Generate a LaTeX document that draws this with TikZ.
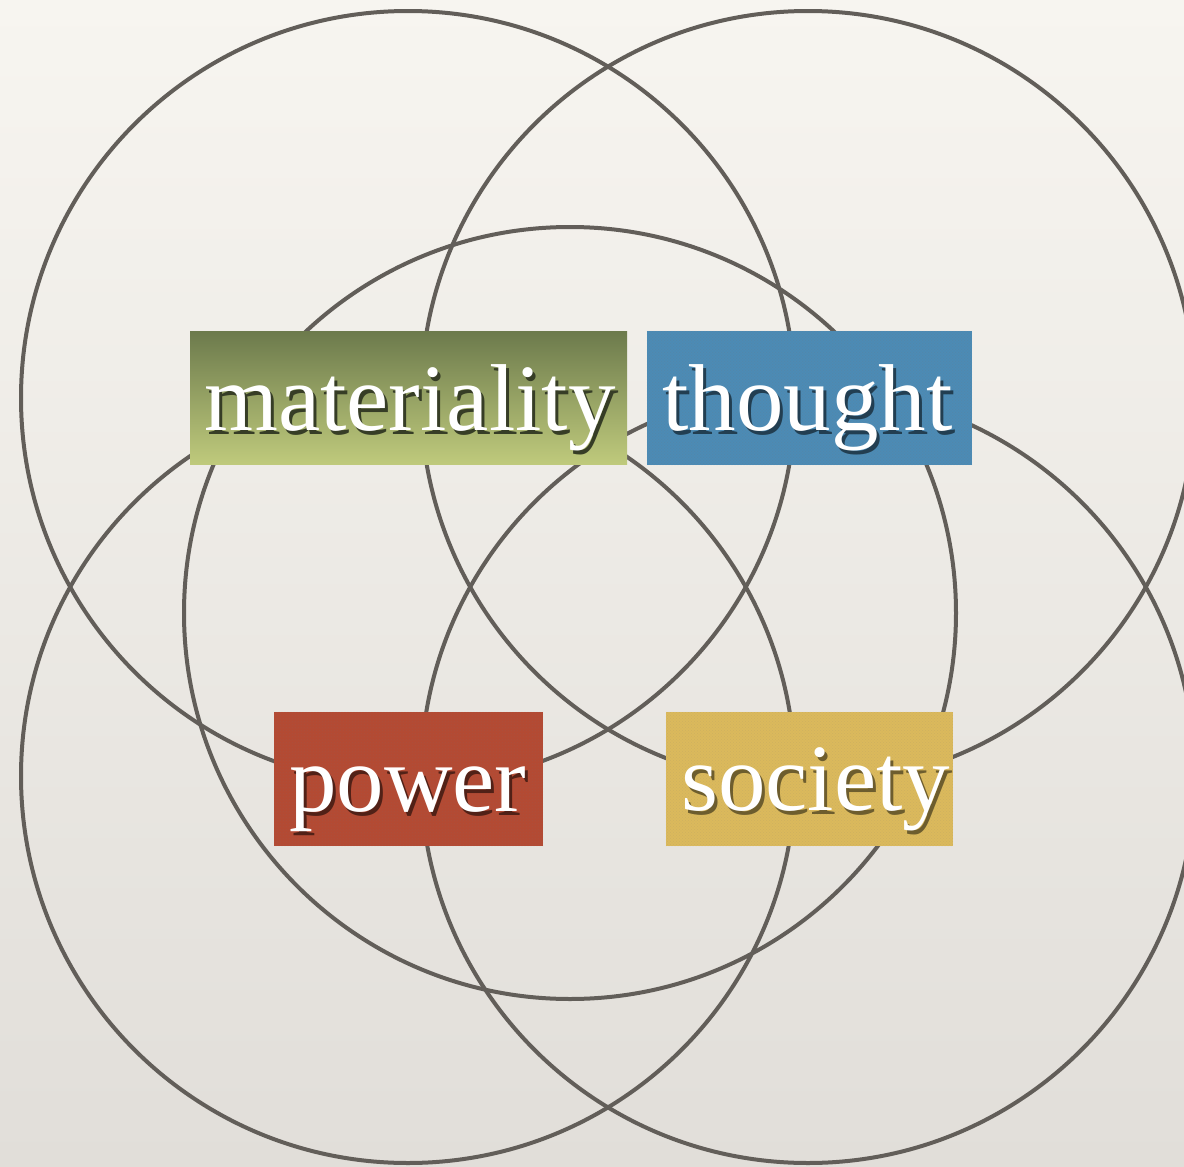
\documentclass[tikz,border=0pt]{standalone}
\usepackage{fontspec}
\setmainfont{Liberation Serif}
\usetikzlibrary{patterns}
\definecolor{bgtop}{HTML}{F7F5F0}
\definecolor{bgbot}{HTML}{E1DED9}
\definecolor{ring}{HTML}{625E59}
\definecolor{mattop}{HTML}{6C7A4C}
\definecolor{matbot}{HTML}{BFCA7C}
\definecolor{thoughtc}{HTML}{4C8BB5}
\definecolor{powerc}{HTML}{B44A33}
\definecolor{societyc}{HTML}{DBB95C}
\definecolor{shadowc}{HTML}{2E2A26}
\newcommand\shadowedword[2]{\rlap{\kern3pt\raisebox{-4pt}{\textcolor{#1}{#2}}}#2}
\tikzset{
  ringline/.style={draw=ring, line width=4pt},
  labelbox/.style={rectangle, inner sep=0pt, draw=none},
  labeltext/.style={anchor=base west, inner sep=0pt, text=white, font=\fontsize{95}{100}\selectfont},
}
\begin{document}
\begin{tikzpicture}[x=1pt,y=-1pt]
\useasboundingbox (0,0) rectangle (1184,1167);
\shade[top color=bgtop, bottom color=bgbot] (0,0) rectangle (1184,1167);
% circles
\draw[ringline] (408,398) circle[radius=387];
\draw[ringline] (808,398) circle[radius=387];
\draw[ringline] (408,776) circle[radius=387];
\draw[ringline] (808,776) circle[radius=387];
\draw[ringline] (570,613) circle[radius=386];
% boxes
\node[labelbox, top color=mattop, bottom color=matbot, minimum width=437pt, minimum height=133pt] (matbox) at (408.5,397.5) {};
\node[labelbox, fill=thoughtc, minimum width=325pt, minimum height=134pt] (thobox) at (809.5,398) {};
\node[labelbox, fill=powerc, minimum width=269pt, minimum height=134pt] (powbox) at (408.5,779) {};
\node[labelbox, fill=societyc, minimum width=287pt, minimum height=134pt] (socbox) at (809.5,779) {};
% dot texture
\fill[pattern=crosshatch dots, pattern color=black!55, opacity=0.18] (thobox.north west) rectangle (thobox.south east);
\fill[pattern=crosshatch dots, pattern color=black!55, opacity=0.15] (powbox.north west) rectangle (powbox.south east);
\fill[pattern=crosshatch dots, pattern color=black!55, opacity=0.12] (socbox.north west) rectangle (socbox.south east);
% texts
\node[labeltext] (mattext) at (204,430) {\shadowedword{black!50!mattop}{materiality}};
\node[labeltext] (thotext) at (662,430) {\shadowedword{black!55!thoughtc}{thought}};
\node[labeltext] (powtext) at (289,811) {\shadowedword{black!55!powerc}{power}};
\node[labeltext] (soctext) at (681,810) {\shadowedword{black!50!societyc}{society}};
\end{tikzpicture}
\end{document}
